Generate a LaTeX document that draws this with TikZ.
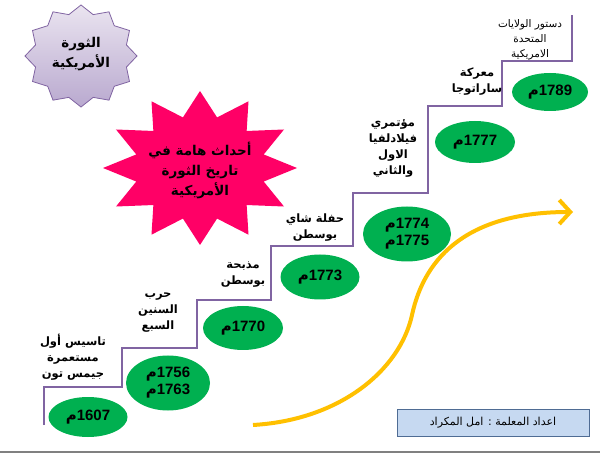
\documentclass[tikz,border=0pt]{standalone}
\usepackage{fontspec}
\setmainfont{Liberation Sans}
\newfontfamily\arabicfont[Script=Arabic]{DejaVu Sans}
\TeXXeTstate=1
\usetikzlibrary{arrows.meta, shapes.geometric}

\definecolor{stairpurple}{HTML}{8064A2}
\definecolor{yeargreen}{HTML}{00B050}
\definecolor{starpink}{HTML}{FF0066}
\definecolor{lavtop}{HTML}{EAE4F0}
\definecolor{lavbot}{HTML}{B9A9CF}
\definecolor{arrowgold}{HTML}{FFC000}
\definecolor{creditblue}{HTML}{C6D9F1}
\definecolor{creditedge}{HTML}{4F6C94}

\newcommand{\ar}[1]{{\arabicfont\beginR #1\endR}}

\begin{document}
\begin{tikzpicture}[
    x=1pt, y=-1pt,
    every node/.style={font=\arabicfont\fontsize{10.5}{15}\selectfont},
    yearnode/.style={ellipse, fill=yeargreen, inner sep=0pt,
      font=\bfseries\fontsize{15}{17}\selectfont, align=center},
    eventlabel/.style={align=center, font=\arabicfont\bfseries\fontsize{11.5}{16}\selectfont},
  ]
    \useasboundingbox (0, 0) rectangle (600, 454);
    \def\ratio{0.84}                         % نسبة النجمة البنفسجية

    % النجمة البنفسجية
    \begin{scope}[shift={(81, 56)}]
      \shade[top color=lavtop, bottom color=lavbot, draw=stairpurple, line width=0.8pt]
        (90:56 and 51) \foreach \k [evaluate=\k as \r using {ifthenelse(mod(\k,2)==0,1,\ratio)}] in {1,...,23} {
          -- ({90+\k*15}:{56*\r} and {51*\r})
        } -- cycle;
    \end{scope}
    \node[font=\arabicfont\bfseries\fontsize{13.5}{20}\selectfont, align=center] (title) at (81, 54)
      {\ar{الثورة}\\\ar{الأمريكية}};

    % النجمة الوردية
    \begin{scope}[shift={(200, 168)}]
      \fill[starpink]
        (90:97 and 77) \foreach \k [evaluate=\k as \r using {ifthenelse(mod(\k,2)==0,1,0.68)}] in {1,...,23} {
          -- ({90+\k*15}:{97*\r} and {77*\r})
        } -- cycle;
    \end{scope}
    \node[font=\arabicfont\bfseries\fontsize{13.5}{20}\selectfont, align=center] (events) at (200, 170)
      {\ar{أحداث هامة في}\\\ar{تاريخ الثورة}\\\ar{الأمريكية}};

    % الدرج
    \draw[stairpurple, line width=2.2pt, line join=miter]
      (44, 425) -- (44, 387) -- (122, 387) -- (122, 348) -- (197, 348) -- (197, 300)
      -- (271, 300) -- (271, 246) -- (353, 246) -- (353, 193) -- (428, 193) -- (428, 106)
      -- (502, 106) -- (502, 61) -- (572, 61) -- (572, 15);

    % السنوات
    \node[yearnode, minimum width=79, minimum height=40] (y1607) at (88, 417) {\ar{م}1607};
    \node[yearnode, minimum width=84, minimum height=55] (y1756) at (168, 383) {\ar{م}1756\\\ar{م}1763};
    \node[yearnode, minimum width=80, minimum height=44] (y1770) at (243, 328) {\ar{م}1770};
    \node[yearnode, minimum width=79, minimum height=45] (y1773) at (320, 277) {\ar{م}1773};
    \node[yearnode, minimum width=88, minimum height=55] (y1774) at (407, 234) {\ar{م}1774\\\ar{م}1775};
    \node[yearnode, minimum width=80, minimum height=42] (y1777) at (475, 142) {\ar{م}1777};
    \node[yearnode, minimum width=76, minimum height=38] (y1789) at (550, 92) {\ar{م}1789};

    % الأحداث
    \node[eventlabel] (jamestown) at (73, 357) {\ar{تاسيس أول}\\\ar{مستعمرة}\\\ar{جيمس تون}};
    \node[eventlabel] (sevenyears) at (158, 313) {\ar{حرب}\\\ar{السنين}\\\ar{السبع}};
    \node[eventlabel] (massacre) at (243, 275) {\ar{مذبحة}\\\ar{بوسطن}};
    \node[eventlabel] (teaparty) at (315, 228) {\ar{حفلة شاي}\\\ar{بوسطن}};
    \node[eventlabel] (congress) at (393, 148) {\ar{مؤتمري}\\\ar{فيلادلفيا}\\\ar{الاول}\\\ar{والثاني}};
    \node[eventlabel] (saratoga) at (477, 82) {\ar{معركة}\\\ar{ساراتوجا}};
    \node[eventlabel, font=\arabicfont\fontsize{10.5}{15}\selectfont] (constitution) at (530, 40)
      {\ar{دستور الولايات}\\\ar{المتحدة}\\\ar{الامريكية}};

    % السهم الذهبي
    \coordinate (arrowstart) at (253, 425);
    \coordinate (arrowbend) at (412, 315);
    \coordinate (arrowend) at (573, 212);
    \draw[arrowgold, line width=4pt, -{Straight Barb[length=11pt, width=24pt]}]
      (arrowstart) .. controls (340, 420) and (400, 370) .. (arrowbend)
      .. controls (425, 255) and (470, 212) .. (arrowend);

    % اعداد
    \node[draw=creditedge, fill=creditblue, line width=1pt, minimum width=192, minimum height=27,
      font=\arabicfont\fontsize{11}{13}\selectfont] (credit) at (493, 422.5)
      {\ar{اعداد المعلمة : امل المكراد}};

    % الخط السفلي
    \draw[gray, line width=2pt] (0, 452) -- (600, 452);
\end{tikzpicture}
\end{document}
